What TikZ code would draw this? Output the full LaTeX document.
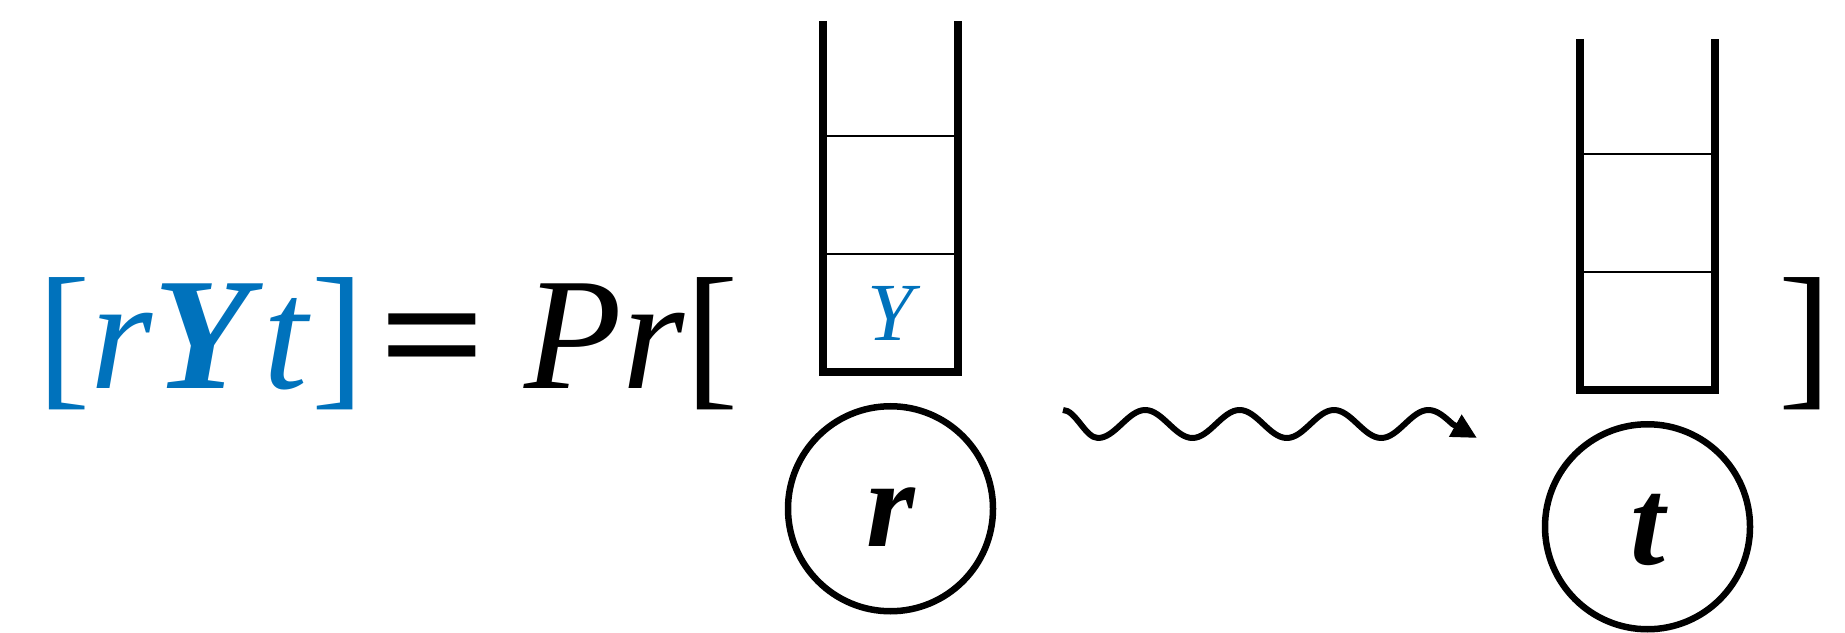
\documentclass[tikz,border=0pt]{standalone}
\usepackage{fontspec}
\setmainfont{Liberation Serif}
\usetikzlibrary{arrows.meta,positioning}
\definecolor{eqblue}{RGB}{0,114,188}

\begin{document}
\begin{tikzpicture}[
  eq/.style={inner sep=0pt, anchor=base west, font=\fontsize{45.5}{50}\selectfont},
  cell/.style={draw, line width=0.02cm, outer sep=0pt, inner sep=0pt, minimum width=1.35cm, minimum height=1.18cm},
  wall/.style={line width=0.08cm, line join=miter},
  site/.style={draw, circle, line width=0.065cm, minimum size=2.05cm, inner sep=0pt, text height=0.75cm, text depth=0pt, font=\fontsize{35.5}{40}\selectfont\bfseries\itshape},
  wavy/.style={-{Triangle[length=0.25cm, width=0.24cm]}, line width=0.06cm, line join=round}
]
\useasboundingbox (0,0) rectangle (18.45,6.32);

\node[eq, text=eqblue] (lhs) at (0.37,2.43) {[\textit{r}\textbf{\textit{Y}}\textit{t}]};
\node[eq] (eqs) at (3.79,2.43) {\scalebox{1.17}[1]{\textbf{=}}};
\node[eq] (rhs) at (5.24,2.43) {\textit{Pr}[};
\node[eq] (close) at (17.78,2.43) {]};

\node[cell, font=\fontsize{23.5}{28}\selectfont\itshape, text=eqblue] (rc1) at (8.905,3.19) {Y};
\node[cell, above=0pt of rc1] (rc2) {};
\node[site, below=0.31cm of rc1] (r) {r};
\draw[wall] ([yshift=1.15cm]rc2.north west) -- (rc1.south west) -- (rc1.south east) -- ([yshift=1.15cm]rc2.north east);

\node[cell] (tc1) at (16.475,3.01) {};
\node[cell, above=0pt of tc1] (tc2) {};
\node[site, below=0.31cm of tc1] (t) {t};
\draw[wall] ([yshift=1.15cm]tc2.north west) -- (tc1.south west) -- (tc1.south east) -- ([yshift=1.15cm]tc2.north east);

\coordinate (wstart) at (10.63,2.22);
\coordinate (wend) at (14.77,1.94);
\draw[wavy] (wstart) cos ++(0.175,-0.14) sin ++(0.175,-0.14)
  foreach \k in {1,2,3} {cos ++(0.236,0.14) sin ++(0.236,0.14) cos ++(0.236,-0.14) sin ++(0.236,-0.14)}
  cos ++(0.236,0.14) sin ++(0.236,0.14) cos ++(0.24,-0.14) -- (wend);
\end{tikzpicture}
\end{document}
